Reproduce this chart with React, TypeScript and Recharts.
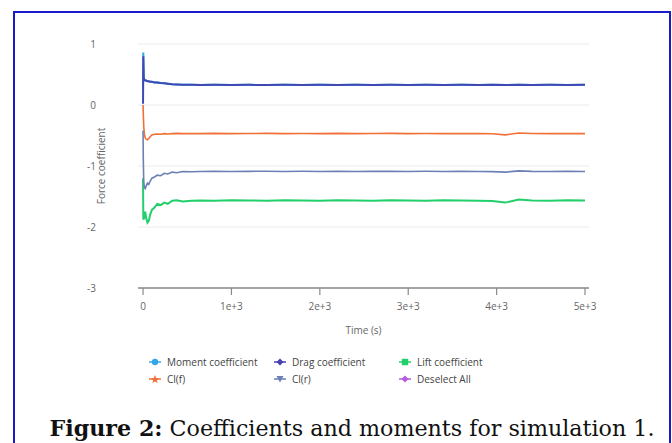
import React from 'react';
import { LineChart, Line, XAxis, YAxis, CartesianGrid, Legend } from 'recharts';

const time = [0, 3, 8, 15, 25, 35, 50, 65, 80, 100, 130, 160, 200, 240, 280, 330, 380, 450, 550, 650, 800, 1000, 1200, 1400, 1600, 1800, 2000, 2200, 2400, 2600, 2800, 3000, 3200, 3400, 3600, 3800, 3950, 4100, 4250, 4400, 4600, 4800, 5000];

const momentCoef = [0.3, 0.86, 0.45, 0.41, 0.4, 0.4, 0.39, 0.39, 0.38, 0.38, 0.37, 0.37, 0.36, 0.355, 0.35, 0.34, 0.335, 0.33, 0.33, 0.328, 0.33, 0.328, 0.33, 0.328, 0.33, 0.329, 0.33, 0.328, 0.33, 0.329, 0.33, 0.328, 0.33, 0.329, 0.33, 0.328, 0.33, 0.327, 0.332, 0.329, 0.33, 0.328, 0.33];
const dragCoef = [0.02, 0.8, 0.45, 0.41, 0.4, 0.4, 0.39, 0.39, 0.38, 0.38, 0.37, 0.37, 0.36, 0.355, 0.35, 0.34, 0.335, 0.33, 0.33, 0.328, 0.33, 0.328, 0.33, 0.328, 0.33, 0.329, 0.33, 0.328, 0.33, 0.329, 0.33, 0.328, 0.33, 0.329, 0.33, 0.328, 0.33, 0.327, 0.332, 0.329, 0.33, 0.328, 0.33];
const liftCoef = [-1.2, -1.85, -1.88, -1.8, -1.75, -1.85, -1.93, -1.9, -1.8, -1.72, -1.68, -1.62, -1.64, -1.6, -1.62, -1.57, -1.56, -1.58, -1.57, -1.565, -1.57, -1.56, -1.565, -1.57, -1.56, -1.565, -1.57, -1.56, -1.565, -1.57, -1.56, -1.565, -1.57, -1.56, -1.565, -1.57, -1.575, -1.6, -1.55, -1.565, -1.57, -1.56, -1.565];
const clFront = [0.0, -0.15, -0.35, -0.48, -0.54, -0.56, -0.57, -0.55, -0.52, -0.49, -0.48, -0.475, -0.48, -0.47, -0.475, -0.47, -0.465, -0.47, -0.468, -0.47, -0.465, -0.47, -0.468, -0.465, -0.47, -0.468, -0.47, -0.465, -0.47, -0.468, -0.465, -0.47, -0.468, -0.47, -0.466, -0.47, -0.472, -0.49, -0.46, -0.468, -0.47, -0.466, -0.47];
const clRear = [-0.42, -0.9, -1.25, -1.35, -1.37, -1.33, -1.28, -1.3, -1.25, -1.2, -1.18, -1.15, -1.16, -1.12, -1.13, -1.1, -1.11, -1.09, -1.095, -1.09, -1.085, -1.09, -1.088, -1.085, -1.09, -1.087, -1.09, -1.085, -1.09, -1.088, -1.085, -1.09, -1.087, -1.09, -1.086, -1.09, -1.092, -1.1, -1.08, -1.088, -1.09, -1.086, -1.09];

const xTicks = [0, 1000, 2000, 3000, 4000, 5000];
const xTickLabels = ['0', '1e+3', '2e+3', '3e+3', '4e+3', '5e+3'];
const yTicks = [-3, -2, -1, 0, 1];

const seriesNames = ['Moment coefficient', 'Drag coefficient', 'Lift coefficient', 'Cl(f)', 'Cl(r)'];
const seriesKeys = ['moment', 'drag', 'lift', 'clf', 'clr'];
const seriesColors = ['#33a6ea', '#3f49b3', '#22cf6a', '#f07038', '#6c80b6'];
const seriesWidths = [2, 2, 2, 1.6, 1.6];
const legendNames = ['Moment coefficient', 'Drag coefficient', 'Lift coefficient', 'Cl(f)', 'Cl(r)', 'Deselect All'];
const legendColors = ['#33a6ea', '#4a3fb0', '#22cf6a', '#f07038', '#6c80b6', '#b85ae2'];
const legendShapes = ['circle', 'diamond', 'square', 'star', 'tdown', 'diamond'];

const data = time.map((t, i) => ({
  t,
  moment: momentCoef[i],
  drag: dragCoef[i],
  lift: liftCoef[i],
  clf: clFront[i],
  clr: clRear[i],
}));

const FONT = '"Open Sans", "Noto Sans", sans-serif';

function Icon({ shape, color }: { shape: string; color: string }) {
  let mark: React.ReactNode = null;
  if (shape === 'circle') mark = <circle cx={6} cy={5} r={3.2} fill={color} />;
  if (shape === 'diamond') mark = <polygon points="6,1.5 9.5,5 6,8.5 2.5,5" fill={color} />;
  if (shape === 'square') mark = <rect x={2.8} y={1.8} width={6.4} height={6.4} fill={color} />;
  if (shape === 'star') mark = <polygon points="6,1 7.2,4 10,4.2 7.8,6.2 8.6,9 6,7.4 3.4,9 4.2,6.2 2,4.2 4.8,4" fill={color} />;
  if (shape === 'tdown') mark = <polygon points="2.5,2 9.5,2 6,8.5" fill={color} />;
  return (
    <svg width={12} height={10} style={{ position: 'absolute', left: 0, top: 3 }}>
      <line x1={0} y1={5} x2={12} y2={5} stroke={color} strokeWidth={1.5} />
      {mark}
    </svg>
  );
}

function LegendContent() {
  return (
    <div style={{ position: 'relative', width: 672, height: 40 }}>
      {legendNames.map((name, i) => {
        const col = i % 3;
        const row = Math.floor(i / 3);
        return (
          <div
            key={name}
            style={{
              position: 'absolute',
              left: 149 + col * 125,
              top: row * 17,
              height: 16,
              fontFamily: FONT,
              fontSize: 10,
              color: '#444',
              lineHeight: '16px',
              whiteSpace: 'nowrap',
            }}
          >
            <Icon shape={legendShapes[i]} color={legendColors[i]} />
            <span style={{ marginLeft: 18 }}>{name}</span>
          </div>
        );
      })}
    </div>
  );
}

function YLabel(props: any) {
  const vb = props.viewBox || { x: 0, y: 0, width: 0, height: 0 };
  const cx = vb.x + 101;
  const cy = vb.y + vb.height / 2;
  return (
    <text x={cx} y={cy} transform={`rotate(-90 ${cx} ${cy})`} textAnchor="middle" dominantBaseline="central" fontFamily={FONT} fontSize={10} fill="#666">
      Force coefficient
    </text>
  );
}

function XLabel(props: any) {
  const vb = props.viewBox || { x: 0, y: 0, width: 0, height: 0 };
  const cx = vb.x + vb.width / 2;
  const cy = vb.y + 42;
  return (
    <text x={cx} y={cy} textAnchor="middle" dominantBaseline="central" fontFamily={FONT} fontSize={10} fill="#666">
      Time (s)
    </text>
  );
}

export default function App() {
  return (
    <div style={{ position: 'absolute', left: 0, top: 0, width: 672, height: 443, background: '#fff', overflow: 'hidden' }}>
      <div
        style={{
          position: 'absolute',
          left: 13,
          top: 11,
          width: 658,
          height: 460,
          boxSizing: 'border-box',
          borderLeft: '2.5px solid #1a1ac8',
          borderTop: '2.5px solid #1a1ac8',
          borderRight: '2.5px solid #1a1ac8',
        }}
      />
      <div style={{ position: 'absolute', left: 0, top: 0 }}>
        <LineChart width={672} height={443} data={data} margin={{ top: 44, right: 83, bottom: 0, left: 0 }}>
          <CartesianGrid vertical={false} stroke="#ececec" strokeWidth={1} />
          <XAxis
            dataKey="t"
            type="number"
            domain={[-57, 5045]}
            ticks={xTicks}
            tickFormatter={(v: number) => xTickLabels[xTicks.indexOf(v)]}
            axisLine={{ stroke: '#8a8a8a', strokeWidth: 1.5 }}
            tickLine={{ stroke: '#8a8a8a', strokeWidth: 1.2 }}
            tickSize={7}
            tickMargin={8}
            tick={{ fontFamily: FONT, fontSize: 10, fill: '#666' }}
            label={<XLabel />}
            height={155}
          />
          <YAxis
            type="number"
            domain={[-3, 1]}
            ticks={yTicks}
            width={138}
            axisLine={false}
            tickLine={false}
            tickSize={6}
            tickMargin={36}
            tick={{ fontFamily: FONT, fontSize: 10, fill: '#666' }}
            label={<YLabel />}
          />
          {seriesKeys.map((k, i) => (
            <Line
              key={k}
              dataKey={k}
              name={seriesNames[i]}
              stroke={seriesColors[i]}
              strokeWidth={seriesWidths[i]}
              dot={false}
              type="linear"
              isAnimationActive={false}
            />
          ))}
          <Legend
            verticalAlign="middle"
            align="center"
            layout="horizontal"
            content={() => <LegendContent />}
            wrapperStyle={{ position: 'absolute', left: 0, top: 354, width: 672, height: 40 }}
          />
        </LineChart>
      </div>
      <div
        style={{
          position: 'absolute',
          left: 0,
          width: 704,
          top: 415,
          textAlign: 'center',
          fontFamily: '"DejaVu Serif", serif',
          fontSize: 22.2,
          lineHeight: '26px',
          color: '#111',
          whiteSpace: 'nowrap',
        }}
      >
        <b>Figure 2:</b> Coefficients and moments for simulation 1.
      </div>
    </div>
  );
}
